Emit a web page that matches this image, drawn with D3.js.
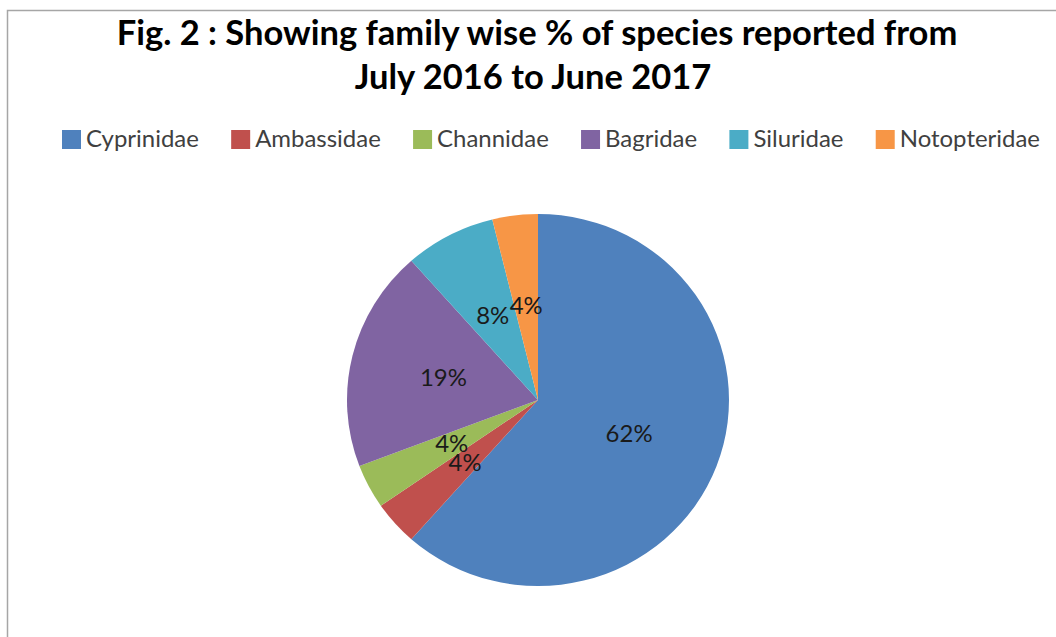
<!DOCTYPE html>
<meta charset="utf-8">
<style>
  body{ margin:0; background:#fff; }
  .title{ font-family:"Lato","Open Sans",sans-serif; font-weight:bold; fill:#000; }
  .legend text{ font-family:"Lato","Open Sans",sans-serif; fill:#404040; }
  .lbl{ font-family:"Lato","Open Sans",sans-serif; fill:#1a1a1a; }
</style>
<body>
<script src="https://cdn.jsdelivr.net/npm/d3@7"></script>
<script>

  // families and number of species (shares)
  var families=["Cyprinidae","Ambassidae","Channidae","Bagridae","Siluridae","Notopteridae"];
  var species=[16,1,1,5,2,1];
  var colors=["#4F81BD","#C0504D","#9BBB59","#8064A2","#4BACC6","#F79646"];
  var titleLines=["Fig. 2 : Showing family wise % of species reported from","July 2016 to June 2017"];

  var data=families.map((f,i)=>({family:f,value:species[i]}));
  var color=d3.scaleOrdinal().domain(families).range(colors);

  var svg=d3.select("body").append("svg").attr("width",1056).attr("height",637);

  // chart frame (only the left and top edges are visible)
  svg.append("rect").attr("x",7.5).attr("y",10.5).attr("width",1200).attr("height",800)
          .attr("fill","none").attr("stroke","#a6a6a6").attr("stroke-width",1.5);

  // fit a text to a width by scaling its font size
  function fit(sel,w){
    var l=sel.node().getComputedTextLength();
    var fs=parseFloat(sel.attr("font-size"));
    sel.attr("font-size",fs*w/l);
  }

  var t1=svg.append("text").attr("class","title").attr("x",537).attr("y",45)
          .attr("text-anchor","middle").attr("font-size",30).text(titleLines[0]);
  fit(t1,841);
  var t2=svg.append("text").attr("class","title").attr("x",533).attr("y",89)
          .attr("text-anchor","middle").attr("font-size",t1.attr("font-size")).text(titleLines[1]);

  // legend
  var sq=19, pad=5;
  var leg=svg.append("g").attr("class","legend");
  var items=leg.selectAll("g").data(families).join("g");
  items.append("rect").attr("width",sq).attr("height",sq).attr("y",-17)
          .attr("fill",d=>color(d));
  var txt=items.append("text").attr("x",sq+pad).attr("y",0).attr("font-size",19).text(d=>d);
  fit(d3.select(txt.nodes()[0]),113);
  var lfs=d3.select(txt.nodes()[0]).attr("font-size");
  txt.attr("font-size",lfs);
  var widths=txt.nodes().map(n=>sq+pad+n.getComputedTextLength());
  var total=d3.sum(widths);
  var gap=(1040-62-total)/(families.length-1);
  var xs=0;
  items.attr("transform",(d,i)=>{ var x=62+xs; xs+=widths[i]+gap; return "translate("+x+",147)"; });

  // pie (slightly wider than tall, as in the original)
  var r=186, sx=191/186, cx=538, cy=400;
  var pie=d3.pie().value(d=>d.value).sort(null);
  var arc=d3.arc().innerRadius(0).outerRadius(r);
  var labelArc=d3.arc().innerRadius(r*0.51).outerRadius(r*0.51);
  var g=svg.append("g").attr("transform","translate("+cx+","+cy+")");
  var arcs=pie(data);
  var tot=d3.sum(species);

  g.append("g").attr("transform","scale("+sx+",1)")
          .selectAll("path").data(arcs).join("path")
          .attr("d",arc).attr("fill",d=>color(d.data.family));

  g.selectAll(".lbl").data(arcs).join("text").attr("class","lbl")
          .attr("transform",d=>{ var c=labelArc.centroid(d); return "translate("+(c[0]*sx)+","+c[1]+")"; })
          .attr("text-anchor","middle").attr("dy","0.35em")
          .attr("font-size",lfs)
          .text(d=>d3.format(".0%")(d.data.value/tot));

</script>
</body>
</html>
